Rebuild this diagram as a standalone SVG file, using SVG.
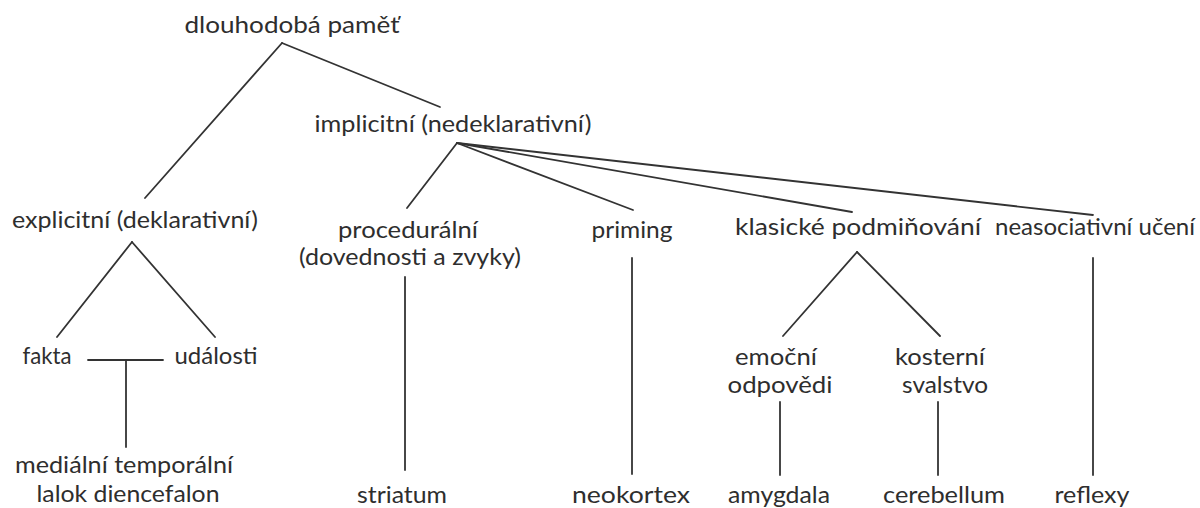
<svg xmlns="http://www.w3.org/2000/svg" width="1200" height="508" viewBox="0 0 1200 508">
<style>
  text { font-family: "Lato", "Open Sans", "Noto Sans", sans-serif; font-size: 23px; fill: #2e2e2e; text-anchor: middle; }
  .c line { stroke: #333; stroke-width: 1.8; stroke-linecap: round; fill: none; }
</style>
<rect width="1200" height="508" fill="#fff"/>
<g id="connectors" class="c">
  <line x1="282" y1="43" x2="145" y2="198"/>
  <line x1="282" y1="43" x2="440" y2="107"/>
  <line x1="457" y1="143" x2="407" y2="208"/>
  <line x1="457" y1="143" x2="633" y2="210"/>
  <line x1="457" y1="143" x2="852" y2="212"/>
  <line x1="457" y1="143" x2="1093" y2="215"/>
  <line x1="132" y1="242" x2="57" y2="337"/>
  <line x1="132" y1="242" x2="215" y2="337"/>
  <line x1="88" y1="360" x2="163" y2="360"/>
  <line x1="126" y1="360" x2="126" y2="447"/>
  <line x1="405" y1="277" x2="405" y2="470"/>
  <line x1="632" y1="258" x2="632" y2="474"/>
  <line x1="1093" y1="258" x2="1093" y2="475"/>
  <line x1="857" y1="252" x2="783" y2="336"/>
  <line x1="857" y1="252" x2="940" y2="336"/>
  <line x1="780" y1="402" x2="780" y2="475"/>
  <line x1="938" y1="402" x2="938" y2="475"/>
</g>
<g id="dlouhodoba"><text x="292" y="33" textLength="215" lengthAdjust="spacingAndGlyphs">dlouhodobá paměť</text></g>
<g id="implicitni"><text x="453" y="132" textLength="277" lengthAdjust="spacingAndGlyphs">implicitní (nedeklarativní)</text></g>
<g id="explicitni"><text x="135" y="228" textLength="246" lengthAdjust="spacingAndGlyphs">explicitní (deklarativní)</text></g>
<g id="proceduralni"><text x="408" y="238" textLength="140" lengthAdjust="spacingAndGlyphs">procedurální</text><text x="410" y="265" textLength="222" lengthAdjust="spacingAndGlyphs">(dovednosti a zvyky)</text></g>
<g id="priming"><text x="632" y="238" textLength="81" lengthAdjust="spacingAndGlyphs">priming</text></g>
<g id="klasicke"><text x="858" y="235" textLength="246" lengthAdjust="spacingAndGlyphs">klasické podmiňování</text></g>
<g id="neasociativni"><text x="1095" y="235" textLength="200" lengthAdjust="spacingAndGlyphs">neasociativní učení</text></g>
<g id="fakta"><text x="47" y="364" textLength="49" lengthAdjust="spacingAndGlyphs">fakta</text></g>
<g id="udalosti"><text x="216" y="364" textLength="83" lengthAdjust="spacingAndGlyphs">události</text></g>
<g id="emocni"><text x="776" y="365" textLength="82" lengthAdjust="spacingAndGlyphs">emoční</text><text x="780" y="393" textLength="105" lengthAdjust="spacingAndGlyphs">odpovědi</text></g>
<g id="kosterni"><text x="940" y="365" textLength="90" lengthAdjust="spacingAndGlyphs">kosterní</text><text x="945" y="393" textLength="86" lengthAdjust="spacingAndGlyphs">svalstvo</text></g>
<g id="medialni"><text x="124" y="473" textLength="218" lengthAdjust="spacingAndGlyphs">mediální temporální</text><text x="128" y="502" textLength="183" lengthAdjust="spacingAndGlyphs">lalok diencefalon</text></g>
<g id="striatum"><text x="402" y="503" textLength="90" lengthAdjust="spacingAndGlyphs">striatum</text></g>
<g id="neokortex"><text x="631" y="503" textLength="118" lengthAdjust="spacingAndGlyphs">neokortex</text></g>
<g id="amygdala"><text x="779" y="503" textLength="102" lengthAdjust="spacingAndGlyphs">amygdala</text></g>
<g id="cerebellum"><text x="944" y="503" textLength="122" lengthAdjust="spacingAndGlyphs">cerebellum</text></g>
<g id="reflexy"><text x="1092" y="503" textLength="75" lengthAdjust="spacingAndGlyphs">reflexy</text></g>
</svg>
